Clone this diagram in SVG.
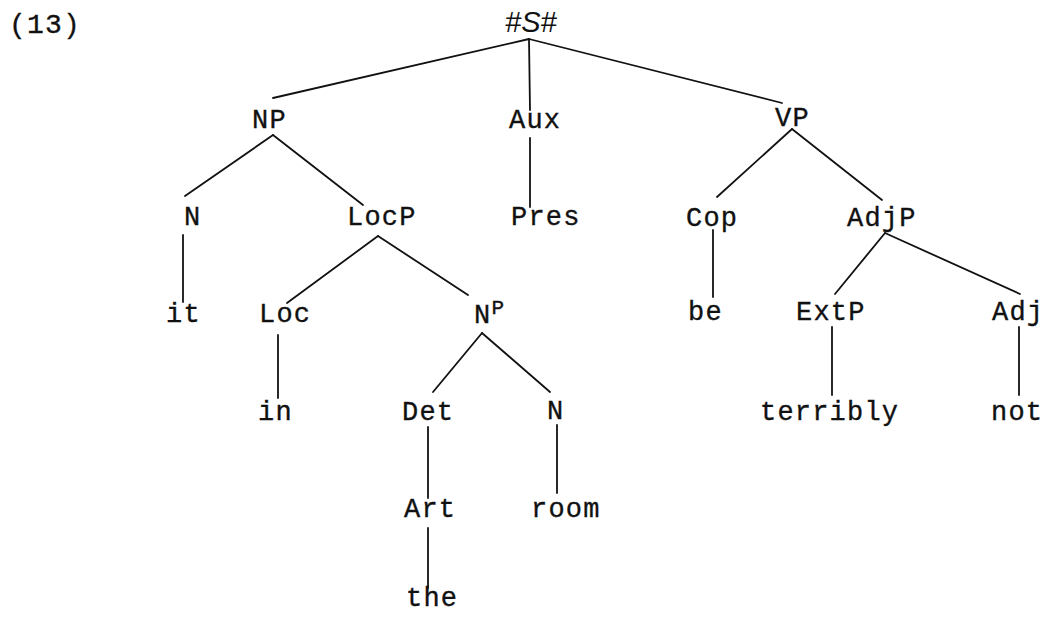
<svg xmlns="http://www.w3.org/2000/svg" width="1050" height="618" viewBox="0 0 1050 618">
<style>
.t{font-family:"Liberation Mono","DejaVu Sans Mono",monospace;font-size:27px;letter-spacing:1.2px;fill:#111;stroke:#111;stroke-width:0.35}
.sup{font-size:21px;letter-spacing:0}
.root{font-family:"Liberation Sans","DejaVu Sans",sans-serif;font-style:italic;font-size:29px;fill:#111}
.e{stroke:#111;stroke-width:1.8;fill:none;stroke-linecap:round}
</style>
<rect width="1050" height="618" fill="#fff"/>
<g id="label"><text class="t" x="9" y="33" style="font-size:28px">(13)</text></g>
<g id="connectors">
<line class="e" x1="529" y1="39" x2="273" y2="98"/>
<line class="e" x1="529" y1="39" x2="530" y2="110"/>
<line class="e" x1="529" y1="39" x2="782" y2="103"/>
<line class="e" x1="273" y1="135" x2="185" y2="196"/>
<line class="e" x1="273" y1="135" x2="363" y2="205"/>
<line class="e" x1="530" y1="138" x2="530" y2="207"/>
<line class="e" x1="792" y1="129" x2="717" y2="197"/>
<line class="e" x1="792" y1="129" x2="882" y2="200"/>
<line class="e" x1="183" y1="235" x2="183" y2="302"/>
<line class="e" x1="378" y1="236" x2="287" y2="303"/>
<line class="e" x1="378" y1="236" x2="468" y2="295"/>
<line class="e" x1="713" y1="230" x2="713" y2="297"/>
<line class="e" x1="885" y1="233" x2="835" y2="294"/>
<line class="e" x1="885" y1="233" x2="1020" y2="294"/>
<line class="e" x1="278" y1="335" x2="278" y2="398"/>
<line class="e" x1="482" y1="333" x2="433" y2="392"/>
<line class="e" x1="482" y1="333" x2="550" y2="392"/>
<line class="e" x1="832" y1="327" x2="832" y2="395"/>
<line class="e" x1="1019" y1="327" x2="1019" y2="395"/>
<line class="e" x1="428" y1="427" x2="428" y2="498"/>
<line class="e" x1="557" y1="425" x2="557" y2="493"/>
<line class="e" x1="428" y1="528" x2="428" y2="588"/>
</g>
<g id="n-S"><text class="root" x="505" y="32">#S#</text></g>
<g id="n-NP"><text class="t" x="252" y="128">NP</text></g>
<g id="n-Aux"><text class="t" x="509" y="128">Aux</text></g>
<g id="n-VP"><text class="t" x="775" y="126">VP</text></g>
<g id="n-N1"><text class="t" x="184" y="225">N</text></g>
<g id="n-LocP"><text class="t" x="347" y="225">LocP</text></g>
<g id="n-Pres"><text class="t" x="511" y="225">Pres</text></g>
<g id="n-Cop"><text class="t" x="686" y="226">Cop</text></g>
<g id="n-AdjP"><text class="t" x="847" y="226">AdjP</text></g>
<g id="n-it"><text class="t" x="166" y="322">it</text></g>
<g id="n-Loc"><text class="t" x="259" y="322">Loc</text></g>
<g id="n-NP2"><text class="t" x="474" y="323">N<tspan class="sup" dy="-9">P</tspan></text></g>
<g id="n-be"><text class="t" x="688" y="320">be</text></g>
<g id="n-ExtP"><text class="t" x="796" y="320">ExtP</text></g>
<g id="n-Adj"><text class="t" x="992" y="320">Adj</text></g>
<g id="n-in"><text class="t" x="258" y="420">in</text></g>
<g id="n-Det"><text class="t" x="402" y="420">Det</text></g>
<g id="n-N2"><text class="t" x="547" y="419">N</text></g>
<g id="n-terribly"><text class="t" x="760" y="420">terribly</text></g>
<g id="n-not"><text class="t" x="991" y="420">not</text></g>
<g id="n-Art"><text class="t" x="404" y="517">Art</text></g>
<g id="n-room"><text class="t" x="531" y="517">room</text></g>
<g id="n-the"><text class="t" x="406" y="606">the</text></g>
</svg>
